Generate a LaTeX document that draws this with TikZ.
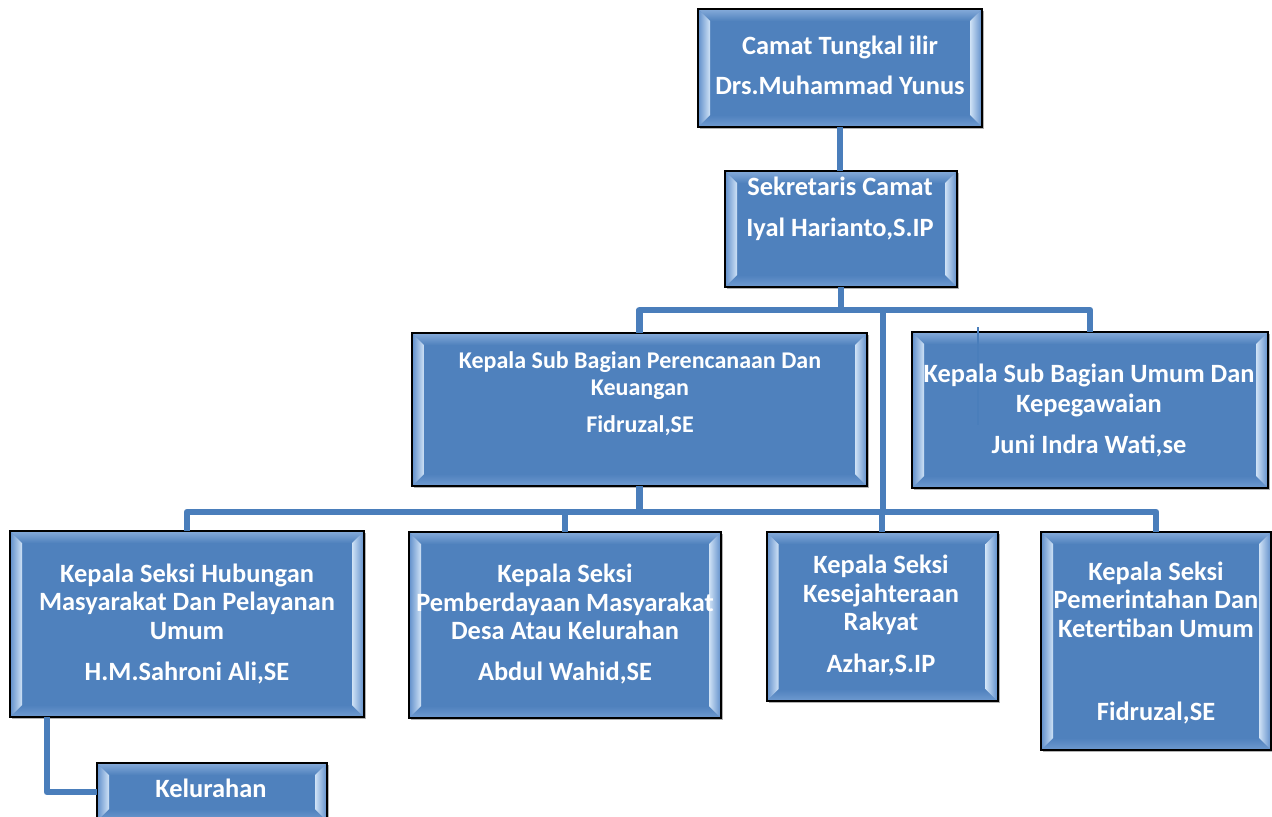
\documentclass[tikz,border=0pt]{standalone}
\usepackage{fontspec}
\setmainfont{Carlito}
\usetikzlibrary{calc,shadows}
\definecolor{boxblue}{HTML}{4F81BD}
\definecolor{conncol}{HTML}{4A7EBB}
\definecolor{bevlight}{HTML}{CFE2F6}
\definecolor{bevtop}{HTML}{86ABDA}
\definecolor{bevmid}{HTML}{5F8ECA}
\definecolor{bevbot}{HTML}{6F9AD0}
\tikzset{
  orgbox/.style={draw=black, line width=1pt, fill=boxblue, inner sep=0pt, outer sep=0pt,
    drop shadow={shadow xshift=1.2pt, shadow yshift=-1.2pt, opacity=0.3, fill=black},
    path picture={
      \coordinate (pNW) at (path picture bounding box.north west);
      \coordinate (pNE) at (path picture bounding box.north east);
      \coordinate (pSW) at (path picture bounding box.south west);
      \coordinate (pSE) at (path picture bounding box.south east);
      \shade[top color=bevtop, bottom color=boxblue] (pNW) -- (pNE) -- ($(pNE)+(-6pt,-6pt)$) -- ($(pNW)+(6pt,-6pt)$) -- cycle;
      \shade[top color=boxblue, bottom color=bevbot] (pSW) -- (pSE) -- ($(pSE)+(-6pt,6pt)$) -- ($(pSW)+(6pt,6pt)$) -- cycle;
      \shade[left color=bevmid, right color=bevlight] (pNW) -- ($(pNW)+(6pt,-6pt)$) -- ($(pSW)+(6pt,6pt)$) -- (pSW) -- cycle;
      \shade[left color=bevlight, right color=bevmid] (pNE) -- ($(pNE)+(-6pt,-6pt)$) -- ($(pSE)+(-6pt,6pt)$) -- (pSE) -- cycle;
    }},
  lbl/.style={text=white, font=\fontsize{13.2}{16}\selectfont\bfseries, anchor=base, inner sep=0pt},
  lblsmall/.style={lbl, font=\fontsize{12}{14}\selectfont\bfseries},
  conn/.style={draw=conncol, line width=3.3pt, line join=round},
}
\begin{document}
\begin{tikzpicture}[x=0.5pt, y=-0.5pt]
\useasboundingbox (0,0) rectangle (1272,816);
\fill[white] (0,0) rectangle (1272,816);
\clip (0,0) rectangle (1272,816);

% boxes
\node[orgbox, minimum width=142pt, minimum height=59pt] (b1) at (840,68) {};
\node[orgbox, minimum width=116pt, minimum height=58pt] (b2) at (841,229) {};
\node[orgbox, minimum width=227.5pt, minimum height=76.5pt] (b3) at (639.5,409.5) {};
\node[orgbox, minimum width=178pt, minimum height=78pt] (b4) at (1090,410) {};
\node[orgbox, minimum width=177pt, minimum height=93pt] (b5) at (187,624) {};
\node[orgbox, minimum width=156pt, minimum height=93pt] (b6) at (565,625) {};
\node[orgbox, minimum width=115.5pt, minimum height=84.5pt] (b7) at (882,616.5) {};
\node[orgbox, minimum width=115pt, minimum height=109pt] (b8) at (1156,641) {};
\node[orgbox, minimum width=115pt, minimum height=29pt] (b9) at (212,792) {};

% connectors
\coordinate (j1) at (639.5,310);
\coordinate (j2) at (187,512);
\coordinate (v1) at (883,310);
\coordinate (v2) at (883,512);
\draw[conn] (b1.south) -- (b1.south |- b2.north);
\draw[conn] (b2.south) -- (b2.south |- j1);
\draw[conn] (b3.north) -- (j1) -| (b4.north);
\draw[conn] (v1) -- (v2);
\draw[conn] (b5.north) -- (j2) -| (b8.north);
\draw[conn] (b3.south) -- (b3.south |- j2);
\draw[conn] (b6.north) -- (b6.north |- j2);
\draw[conn] (b7.north) -- (b7.north |- j2);
\draw[conn] ($(b5.south west)+(37,0)$) |- (b9.west);
\draw[conncol, line width=0.6pt] (978,327) -- (978,425);

% labels
\node[lbl] (t1a) at (840,54.5) {Camat Tungkal ilir};
\node[lbl] (t1b) at (840,94.5) {Drs.Muhammad Yunus};
\node[lbl] (t2a) at (840,195.5) {Sekretaris Camat};
\node[lbl] (t2b) at (840,236.5) {Iyal Harianto,S.IP};
\node[lblsmall] (t3a) at (640,368.7) {Kepala Sub Bagian Perencanaan Dan};
\node[lblsmall] (t3b) at (640,395) {Keuangan};
\node[lblsmall] (t3c) at (640,432.5) {Fidruzal,SE};
\node[lbl] (t4a) at (1089,382.5) {Kepala Sub Bagian Umum Dan};
\node[lbl] (t4b) at (1089,412.5) {Kepegawaian};
\node[lbl] (t4c) at (1089,453.5) {Juni Indra Wati,se};
\node[lbl] (t5a) at (187,582) {Kepala Seksi Hubungan};
\node[lbl] (t5b) at (187,610) {Masyarakat Dan Pelayanan};
\node[lbl] (t5c) at (187,639) {Umum};
\node[lbl] (t5d) at (187,680) {H.M.Sahroni Ali,SE};
\node[lbl] (t6a) at (565,582) {Kepala Seksi};
\node[lbl] (t6b) at (565,611) {Pemberdayaan Masyarakat};
\node[lbl] (t6c) at (565,639) {Desa Atau Kelurahan};
\node[lbl] (t6d) at (565,680) {Abdul Wahid,SE};
\node[lbl] (t7a) at (881,573) {Kepala Seksi};
\node[lbl] (t7b) at (881,602) {Kesejahteraan};
\node[lbl] (t7c) at (881,630) {Rakyat};
\node[lbl] (t7d) at (881,672) {Azhar,S.IP};
\node[lbl] (t8a) at (1156,580) {Kepala Seksi};
\node[lbl] (t8b) at (1156,608) {Pemerintahan Dan};
\node[lbl] (t8c) at (1156,637) {Ketertiban Umum};
\node[lbl] (t8d) at (1156,720) {Fidruzal,SE};
\node[lbl] (t9a) at (211,797) {Kelurahan};
\end{tikzpicture}
\end{document}
